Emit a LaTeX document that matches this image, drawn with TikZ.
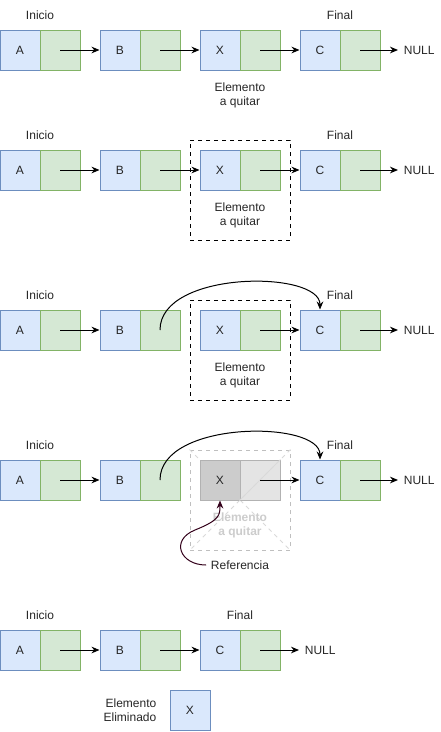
\documentclass[tikz,border=0pt]{standalone}
\usepackage{fontspec}
\setmainfont{Liberation Sans}
\usetikzlibrary{arrows.meta}
\definecolor{datofill}{HTML}{DAE8FC}
\definecolor{datoline}{HTML}{6C8EBF}
\definecolor{enlacefill}{HTML}{D5E8D4}
\definecolor{enlaceline}{HTML}{82B366}
\definecolor{refcolor}{HTML}{33001A}
\begin{document}
\begin{tikzpicture}[x=0.75pt, y=-0.75pt, line width=0.75pt,
    >={Stealth[length=6pt, width=5pt]},
    every node/.style={font=\fontsize{9}{10.5}\selectfont, text=black!85},
    dato/.style={draw=datoline, fill=datofill, minimum width=30pt, minimum height=30pt, inner sep=0pt},
    enlace/.style={draw=enlaceline, fill=enlacefill, minimum width=30pt, minimum height=30pt, inner sep=0pt},
    borrado/.style={draw=black!30, minimum width=30pt, minimum height=30pt, inner sep=0pt},
    quitar/.style={draw, dashed, minimum width=75pt, minimum height=75pt, inner sep=0pt},
    nulo/.style={anchor=west, inner xsep=4pt}]
  \useasboundingbox (0,0) rectangle (441,732);
  % filas 1 a 4: A -> B -> X -> C -> NULL
  \foreach \r/\y in {1/50, 2/170, 3/330, 4/480}{
    \node[dato] (a\r) at (20,\y) {A};
    \node[enlace] (a\r p) at (60,\y) {};
    \node[dato] (b\r) at (120,\y) {B};
    \node[enlace] (b\r p) at (160,\y) {};
    \node[dato] (c\r) at (320,\y) {C};
    \node[enlace] (c\r p) at (360,\y) {};
    \node[nulo] (null\r) at (398,\y) {NULL};
    \node (inicio\r) at (40,\y-35) {Inicio};
    \node (final\r) at (340,\y-35) {Final};
    \draw[->] (a\r p.center) -- (b\r.west);
    \draw[->] (c\r p.center) -- (null\r.west);
  }
  \node[dato] (x1) at (220,50) {X};
  \node[enlace] (x1p) at (260,50) {};
  \node[dato] (x2) at (220,170) {X};
  \node[enlace] (x2p) at (260,170) {};
  \node[dato] (x3) at (220,330) {X};
  \node[enlace] (x3p) at (260,330) {};
  \node[align=center] (quita1) at (240,95) {Elemento\\a quitar};
  \draw[->] (b1p.center) -- (x1.west);
  \draw[->] (x1p.center) -- (c1.west);
  % fila 2
  \node[quitar] (caja2) at (240,190) {};
  \node[align=center] (quita2) at (240,215) {Elemento\\a quitar};
  \draw[->] (b2p.center) -- (x2.west);
  \draw[->] (x2p.center) -- (c2.west);
  % fila 3
  \node[quitar] (caja3) at (240,350) {};
  \node[align=center] (quita3) at (240,375) {Elemento\\a quitar};
  \draw[->] (x3p.center) -- (c3.west);
  \draw[->] (b3p.center) .. controls (160,270) and (320,270) .. (c3.north);
  % fila 4
  \node[quitar, draw=black!25] (caja4) at (240,500) {};
  \draw[black!15, dashed] (caja4.north west) -- (caja4.south east);
  \draw[black!15, dashed] (caja4.north east) -- (caja4.south west);
  \node[borrado, fill=black!20] (x4) at (220,480) {X};
  \node[borrado, fill=black!15, fill opacity=0.7] (x4p) at (260,480) {};
  \draw[white!85!black] (x4p.south west) -- (x4p.north east);
  \node[align=center, text=black!20, font=\fontsize{9}{10.5}\selectfont\bfseries] (quita4) at (240,525) {Elemento\\a quitar};
  \draw[->] (x4p.center) -- (c4.west);
  \draw[->] (b4p.center) .. controls (160,420) and (320,420) .. (c4.north);
  \node (ref) at (240,565) {Referencia};
  \draw[->, refcolor] (ref.west) .. controls (180,565) and (170,540) .. (195,530) .. controls (220,520) and (220,515) .. (x4.south);
  % fila 5: A -> B -> C -> NULL
  \node[dato] (a5) at (20,650) {A};
  \node[enlace] (a5p) at (60,650) {};
  \node[dato] (b5) at (120,650) {B};
  \node[enlace] (b5p) at (160,650) {};
  \node[dato] (c5) at (220,650) {C};
  \node[enlace] (c5p) at (260,650) {};
  \node[nulo] (null5) at (299,650) {NULL};
  \node (inicio5) at (40,615) {Inicio};
  \node (final5) at (240,615) {Final};
  \draw[->] (a5p.center) -- (b5.west);
  \draw[->] (b5p.center) -- (c5.west);
  \draw[->] (c5p.center) -- (null5.west);
  \node[align=right] (elim) at (130,710) {Elemento\\Eliminado};
  \node[dato] (x5) at (190,710) {X};
\end{tikzpicture}
\end{document}
